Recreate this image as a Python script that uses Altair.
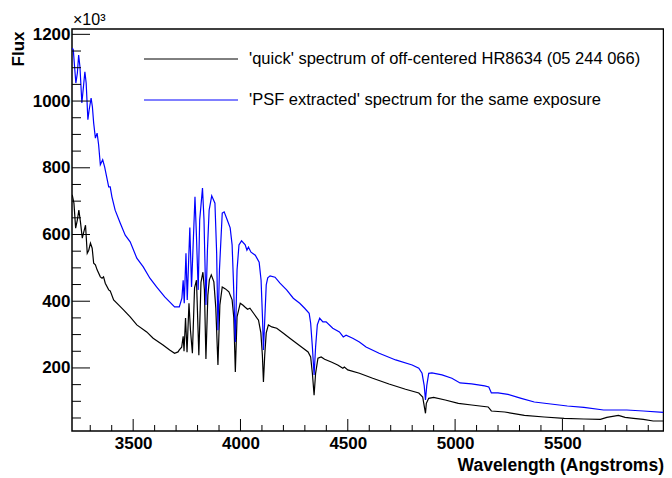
import altair as alt
import pandas as pd

# ---- data ----
quick_wl = [3216, 3224, 3232, 3240, 3247, 3255, 3263, 3270, 3278, 3286,
            3293, 3301, 3309, 3316, 3324, 3332, 3347, 3355, 3362, 3370,
            3386, 3393, 3409, 3432, 3455, 3486, 3517, 3563, 3593, 3639,
            3670, 3693, 3709,
            3715, 3726, 3733, 3737, 3744, 3751, 3760, 3767, 3776, 3786,
            3795, 3806, 3816, 3825, 3832, 3839, 3848, 3855, 3864, 3876,
            3885, 3895, 3904, 3915, 3930, 3946, 3961, 3969, 3976, 3984,
            3999, 4012, 4022, 4033, 4044, 4061, 4084, 4095, 4102, 4107,
            4113, 4120, 4130, 4146, 4169, 4200, 4230, 4261, 4292, 4315,
            4327, 4335, 4343, 4350, 4361, 4376, 4392, 4423, 4453, 4477,
            4484, 4500, 4554, 4616, 4692, 4769, 4831, 4849, 4858, 4862,
            4866, 4877, 4900, 4954, 5015, 5077, 5154, 5169, 5231, 5323,
            5415, 5508, 5600, 5677, 5707, 5761, 5792, 5831, 5877, 5923,
            5970]
quick_flux = [719, 694, 619, 644, 673, 634, 589, 608, 628, 544,
              553, 574, 559, 514, 509, 494, 473, 469, 473, 454,
              434, 431, 404, 389, 374, 353, 329, 308, 289, 269,
              254, 244, 248,
              254, 262, 295, 250, 350, 247, 394, 313, 244, 440,
              463, 238, 457, 487, 434, 227, 418, 464, 479, 458,
              380, 209, 389, 443, 437, 428, 404, 350, 188, 353,
              394, 388, 382, 376, 379, 364, 343, 305, 239, 158,
              239, 305, 329, 323, 319, 304, 289, 274, 259, 248,
              233, 184, 118, 184, 229, 233, 226, 218, 209, 199,
              203, 194, 184, 169, 152, 136, 125, 113, 79, 64,
              94, 109, 112, 104, 94, 89, 83, 71, 68, 58,
              53, 49, 47, 46, 52, 58, 52, 49, 46, 41,
              41]

psf_wl = [3216, 3221, 3227, 3233, 3240, 3246, 3252, 3261, 3267, 3275,
          3281, 3289, 3295, 3304, 3310, 3316, 3324, 3332, 3339, 3347,
          3358, 3367, 3386, 3393, 3401, 3416, 3440, 3463, 3486, 3517,
          3547, 3578, 3609, 3647, 3670, 3693, 3709,
          3715, 3727, 3733, 3738, 3746, 3752, 3764, 3772, 3788, 3795,
          3803, 3810, 3823, 3830, 3839, 3846, 3854, 3866, 3881, 3889,
          3895, 3902, 3915, 3924, 3938, 3952, 3961, 3967, 3976, 3984,
          3993, 4005, 4022, 4030, 4037, 4049, 4069, 4087, 4096, 4103,
          4107, 4113, 4120, 4127, 4138, 4161, 4184, 4215, 4246, 4276,
          4299, 4320, 4327, 4335, 4343, 4350, 4358, 4369, 4384, 4399,
          4430, 4461, 4479, 4492, 4523, 4554, 4585, 4646, 4723, 4800,
          4831, 4846, 4856, 4862, 4868, 4877, 4892, 4939, 4985, 5023,
          5077, 5138, 5157, 5169, 5200, 5246, 5308, 5369, 5446, 5523,
          5600, 5692, 5800, 5877, 5970]
psf_flux = [1159, 1154, 1103, 1054, 1084, 1138, 1103, 994, 1034, 1088,
            1054, 944, 974, 1009, 983, 934, 889, 904, 869, 809,
            824, 803, 743, 743, 713, 673, 634, 598, 578, 529,
            503, 469, 443, 413, 398, 383, 383,
            383, 409, 463, 394, 544, 404, 621, 443, 713, 593,
            434, 644, 739, 644, 389, 553, 673, 716, 694, 544,
            313, 494, 664, 668, 644, 620, 569, 463, 278, 494,
            569, 581, 569, 553, 562, 547, 538, 517, 463, 343,
            254, 343, 449, 470, 476, 472, 454, 434, 409, 394,
            379, 364, 334, 263, 179, 263, 329, 349, 338, 338,
            319, 308, 293, 298, 289, 278, 263, 244, 224, 209,
            199, 184, 147, 104, 147, 184, 185, 179, 169, 155,
            152, 146, 143, 125, 125, 121, 109, 98, 92, 86,
            82, 74, 74, 71, 67]

series_names = ["'quick' spectrum of off-centered HR8634 (05 244 066)",
                "'PSF extracted' spectrum for the same exposure"]
series_colors = ["#000000", "#0000ff"]

x_major = [3500, 4000, 4500, 5000, 5500]
x_minor = [3300, 3400, 3600, 3700, 3800, 3900, 4100, 4200, 4300, 4400,
           4600, 4700, 4800, 4900, 5100, 5200, 5300, 5400, 5600, 5700,
           5800, 5900]
y_major = [200, 400, 600, 800, 1000, 1200]
y_minor = [50, 100, 150, 250, 300, 350, 450, 500, 550, 650, 700, 750,
           850, 900, 950, 1050, 1100, 1150]

W, H = 591.5, 402
FONT = "Liberation Sans"

xs = alt.Scale(domain=[3215, 5971], nice=False, zero=False)
ys = alt.Scale(domain=[11, 1216], nice=False, zero=False)

quick_df = pd.DataFrame({"Wavelength": quick_wl, "Flux": quick_flux})
psf_df = pd.DataFrame({"Wavelength": psf_wl, "Flux": psf_flux})

x_axis = alt.Axis(values=x_major, format="d", ticks=False, tickSize=0,
                  domain=False, grid=False,
                  labelFont=FONT, labelFontSize=17, labelFontWeight="bold",
                  labelColor="black", labelPadding=4, labelOverlap=False,
                  labelFlush=False,
                  title="Wavelength (Angstroms)", titleFont=FONT, titleFontSize=17.5,
                  titleFontWeight="bold", titleColor="black", titleAnchor="end",
                  titleAlign="right", titleBaseline="middle", titleX=W, titleY=34)
y_axis = alt.Axis(values=y_major, format="d", ticks=False, tickSize=0,
                  domain=False, grid=False,
                  labelFont=FONT, labelFontSize=17, labelFontWeight="bold",
                  labelColor="black", labelPadding=2, labelOverlap=False,
                  labelFlush=False,
                  title="Flux", titleFont=FONT, titleFontSize=17,
                  titleFontWeight="bold", titleColor="black", titleAnchor="end",
                  titleAngle=270, titleAlign="right", titleBaseline="middle",
                  titleX=-54, titleY=2)

quick_line = alt.Chart(quick_df).mark_line(
    color=series_colors[0], strokeWidth=1.2, clip=True
).encode(
    x=alt.X("Wavelength:Q", scale=xs, axis=x_axis),
    y=alt.Y("Flux:Q", scale=ys, axis=y_axis),
)
psf_line = alt.Chart(psf_df).mark_line(
    color=series_colors[1], strokeWidth=1.2, clip=True
).encode(
    x=alt.X("Wavelength:Q", scale=xs),
    y=alt.Y("Flux:Q", scale=ys),
)

# inward ROOT-style ticks
def yticks(vals, length):
    return alt.Chart(pd.DataFrame({"Flux": vals})).mark_rule(
        color="black", strokeWidth=1
    ).encode(y=alt.Y("Flux:Q", scale=ys),
             x=alt.value(0), x2=alt.value(length))

def xticks(vals, length):
    return alt.Chart(pd.DataFrame({"Wavelength": vals})).mark_rule(
        color="black", strokeWidth=1
    ).encode(x=alt.X("Wavelength:Q", scale=xs),
             y=alt.value(H), y2=alt.value(H - length))

# exponent label
exp_text = alt.Chart(pd.DataFrame({"t": ["×10³"]})).mark_text(
    font=FONT, fontSize=16, align="left", baseline="alphabetic", color="black"
).encode(text="t:N", x=alt.value(1), y=alt.value(-4))

# legend (no box, as in the reference)
def legend_row(i, ypos):
    line = alt.Chart(pd.DataFrame({"s": [series_names[i]]})).mark_rule(
        color=series_colors[i], strokeWidth=1
    ).encode(x=alt.value(72), x2=alt.value(166), y=alt.value(ypos))
    txt = alt.Chart(pd.DataFrame({"s": [series_names[i]]})).mark_text(
        font=FONT, fontSize=16.5, align="left", baseline="middle", color="black"
    ).encode(text="s:N", x=alt.value(177), y=alt.value(ypos))
    return [line, txt]

layers = [quick_line, psf_line,
          yticks(y_major, 18), yticks(y_minor, 9),
          xticks(x_major, 12), xticks(x_minor, 6),
          exp_text] + legend_row(0, 30) + legend_row(1, 71)

# svg width = 64 + 591.5 + 0.5 = 656 -> page fits 672 px with the 8 px margins
chart = alt.layer(*layers).properties(
    width=W, height=H,
    autosize=alt.AutoSizeParams(type="none"),
    padding={"left": 64, "top": 21, "right": 0.5, "bottom": 45},
    background="white",
).configure_view(stroke="black", strokeWidth=1.5)

chart.save("out.html", embed_options={"renderer": "svg", "actions": False})
